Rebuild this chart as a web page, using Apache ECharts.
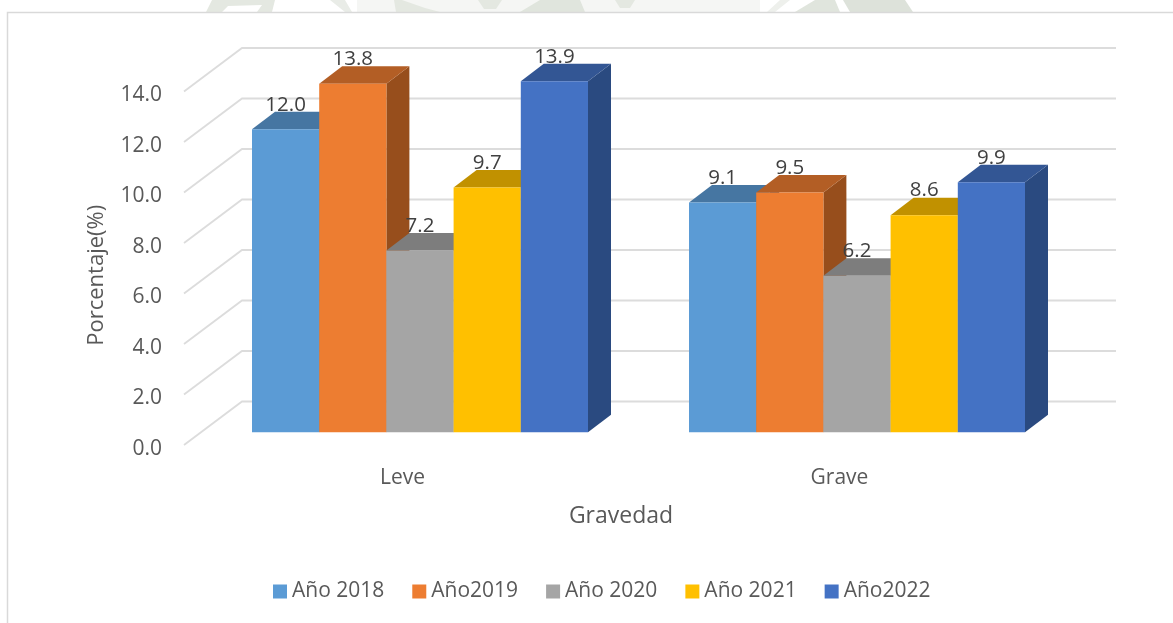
<!DOCTYPE html>
<html>
<head>
<meta charset="utf-8">
<style>
html, body { margin: 0; padding: 0; background: #fff; }
#main { width: 1173px; height: 623px; }
</style>
<script src="https://cdn.jsdelivr.net/npm/echarts@6/dist/echarts.min.js"></script>
</head>
<body>
<div id="main"></div>
<script>
var categories = ['Leve', 'Grave']
var ticks = [0, 2, 4, 6, 8, 10, 12, 14]
var seriesNames = ['Año 2018', 'Año2019', 'Año 2020', 'Año 2021', 'Año2022']
var ano2018 = [12.0, 9.1]
var ano2019 = [13.8, 9.5]
var ano2020 = [7.2, 6.2]
var ano2021 = [9.7, 8.6]
var ano2022 = [13.9, 9.9]
var seriesValues = [ano2018, ano2019, ano2020, ano2021, ano2022]
// front, top, side
var faceColors = [
	['#5b9bd5', '#4676a2', '#37618a'],
	['#ed7d31', '#b35e25', '#974e1c'],
	['#a5a5a5', '#7d7d7d', '#666666'],
	['#ffc000', '#c19100', '#9e7600'],
	['#4472c4', '#335694', '#2a4a80']
]

var textColor = '#595959'
var fontName = '"Open Sans"'

// 3d look: the axis sits on the front plane, walls are pushed back from it
var wallDx = 58
var wallDy = -43.5
var barShiftX = 17.5
var barShiftY = -12.7
var depthX = 23
var depthY = -17.5
var barRatio = 336 / 437 / 5

function renderWall(params, api) {
	var sys = params.coordSys
	var y = api.coord([0, api.value(0)])[1]
	var x0 = sys.x
	var x1 = sys.x + sys.width
	return {
		type: 'polyline',
		shape: { points: [[x0, y], [x0 + wallDx, y + wallDy], [x1 + wallDx, y + wallDy]] },
		style: { stroke: '#dcdcdc', lineWidth: 1.8, fill: null },
		silent: true
	}
}

function makeBarRender(idx) {
	return function (params, api) {
		var cat = api.value(0)
		var val = api.value(1)
		var band = api.size([1, 0])[0]
		var w = band * barRatio
		var base = api.coord([cat, 0])
		var top = api.coord([cat, val])
		var x0 = base[0] + barShiftX - w * 2.5 + w * idx
		var x1 = x0 + w
		var yb = base[1] + barShiftY
		var yt = top[1] + barShiftY
		var c = faceColors[idx]
		return {
			type: 'group',
			children: [
				{
					type: 'polygon',
					shape: { points: [[x1, yb], [x1 + depthX, yb + depthY], [x1 + depthX, yt + depthY], [x1, yt]] },
					style: { fill: c[2] }
				},
				{
					type: 'polygon',
					shape: { points: [[x0, yt], [x0 + depthX, yt + depthY], [x1 + depthX, yt + depthY], [x1, yt]] },
					style: { fill: c[1] }
				},
				{
					type: 'rect',
					shape: { x: x0, y: yt, width: w, height: yb - yt },
					style: { fill: c[0] }
				}
			]
		}
	}
}

function renderValueLabel(params, api) {
	var band = api.size([1, 0])[0]
	var w = band * barRatio
	var idx = api.value(2)
	var top = api.coord([api.value(0), api.value(1)])
	return {
		type: 'text',
		style: {
			x: top[0] + barShiftX - w * 2.5 + w * (idx + 0.5),
			y: top[1] + barShiftY - 24.5,
			text: api.value(1).toFixed(1),
			fill: '#404040',
			font: '20.5px ' + fontName,
			align: 'center',
			verticalAlign: 'middle'
		}
	}
}

var series = [{
	type: 'custom',
	name: 'wall',
	renderItem: renderWall,
	data: ticks.map(function (t) { return [t] }),
	encode: { y: 0 },
	silent: true,
	clip: false,
	z: 1
}]
seriesNames.forEach(function (name, i) {
	series.push({
		type: 'custom',
		name: name,
		renderItem: makeBarRender(i),
		itemStyle: { color: faceColors[i][0] },
		data: seriesValues[i].map(function (v, c) { return [c, v] }),
		encode: { x: 0, y: 1 },
		clip: false,
		z: 2
	})
})
var labelData = []
seriesValues.forEach(function (vals, i) {
	vals.forEach(function (v, c) { labelData.push([c, v, i]) })
})
series.push({
	type: 'custom',
	name: 'labels',
	renderItem: renderValueLabel,
	data: labelData,
	encode: { x: 0, y: 1 },
	clip: false,
	z: 5
})

// faint watermark of the page behind the chart, only the strip above the frame shows
function stripShape(points, color) {
	return { type: 'polygon', shape: { points: points }, style: { fill: color }, silent: true, z: 0 }
}

var option = {
	animation: false,
	backgroundColor: '#fff',
	textStyle: { fontFamily: fontName },
	grid: { left: 184, top: 91.5, width: 874, height: 353.5 },
	xAxis: {
		type: 'category',
		data: categories,
		name: 'Gravedad',
		nameLocation: 'middle',
		nameGap: 60,
		nameTextStyle: { color: textColor, fontSize: 23 },
		axisLine: { show: false },
		axisTick: { show: false },
		splitLine: { show: false },
		axisLabel: { color: textColor, fontSize: 21, margin: 23 }
	},
	yAxis: {
		type: 'value',
		min: 0,
		max: 14,
		interval: 2,
		name: 'Porcentaje(%)',
		nameLocation: 'middle',
		nameGap: 76,
		nameTextStyle: { color: textColor, fontSize: 22, padding: [0, 14, 0, 0] },
		axisLine: { show: false },
		axisTick: { show: false },
		splitLine: { show: false },
		axisLabel: {
			margin: 22,
			formatter: function (v) { return '{t|' + v.toFixed(1) + '}' },
			rich: {
				t: { color: textColor, fontSize: 21, fontFamily: fontName, padding: [8, 0, 0, 0] }
			}
		}
	},
	legend: {
		data: seriesNames,
		left: 268,
		top: 576,
		itemWidth: 14,
		itemHeight: 14,
		itemGap: 28,
		icon: 'rect',
		textStyle: { color: textColor, fontSize: 21, fontFamily: fontName }
	},
	graphic: [
		stripShape([[357, 0], [760, 0], [760, 12], [357, 12]], '#f5f6f4'),
		stripShape([[206, 12], [212, 0], [275, 0], [272, 12], [257, 12], [262, 5], [228, 6], [222, 12]], '#e4e8e1'),
		stripShape([[330, 0], [345, 0], [352, 12], [345, 12]], '#e9ece7'),
		stripShape([[396, 12], [394, 0], [402, 0], [425, 8], [440, 12]], '#e4e8e1'),
		stripShape([[478, 0], [502, 0], [496, 9], [484, 9]], '#e4e8e1'),
		stripShape([[520, 12], [540, 0], [580, 0], [585, 12]], '#e0e5dd'),
		stripShape([[615, 0], [635, 0], [630, 8], [620, 8]], '#e4e8e1'),
		stripShape([[767, 12], [780, 0], [790, 0], [775, 12]], '#eef0ec'),
		stripShape([[795, 12], [815, 0], [835, 0], [840, 12]], '#e0e5dd'),
		stripShape([[850, 12], [843, 0], [905, 0], [913, 12]], '#dde2da'),
		{
			type: 'polyline',
			shape: { points: [[7.5, 623], [7.5, 12.5], [1173, 12.5]] },
			style: { stroke: '#d9d9d9', lineWidth: 1.5, fill: null },
			silent: true
		}
	],
	series: series
}

var myChart = echarts.init(document.getElementById('main'))
myChart.setOption(option)
</script>
</body>
</html>
